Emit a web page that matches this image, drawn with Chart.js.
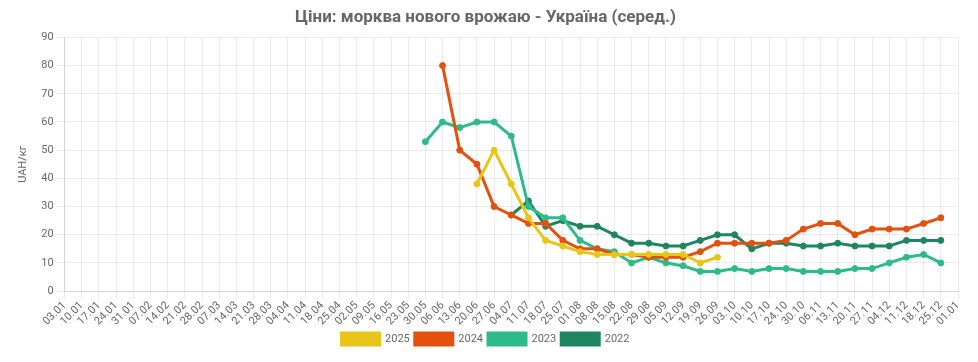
<!DOCTYPE html>
<html>
<head>
<meta charset="utf-8">
<script src="https://cdn.jsdelivr.net/npm/chart.js@4"></script>
<style>
html,body{margin:0;padding:0;background:#fff;}
#wrap{width:978px;height:362px;position:relative;}
</style>
</head>
<body>
<div id="wrap"><canvas id="c" width="978" height="362"></canvas></div>
<script>
const labels = ["03.01","10.01","17.01","24.01","31.01","07.02","14.02","21.02","28.02","07.03","14.03","21.03","28.03","04.04","11.04","18.04","25.04","02.05","09.05","16.05","23.05","30.05","06.06","13.06","20.06","27.06","04.07","11.07","18.07","25.07","01.08","08.08","15.08","22.08","29.08","05.09","12.09","19.09","26.09","03.10","10.10","17.10","24.10","30.10","06.11","13.11","20.11","27.11","04.12","11.12","18.12","25.12","01.01"];

// values start at given category index
const start2025 = 24;
const values2025 = [38,50,38,26,18,16,14,13,13,13,13,13,13,10,12];
const start2024 = 22;
const values2024 = [80,50,45,30,27,24,24,18,15,15,13,13,12,12,12,14,17,17,17,17,18,22,24,24,20,22,22,22,24,26];
const start2023 = 21;
const values2023 = [53,60,58,60,60,55,30,26,26,18,15,14,10,12,10,9,7,7,8,7,8,8,7,7,7,8,8,10,12,13,10];
const start2022 = 26;
const values2022 = [27,32,23,25,23,23,20,17,17,16,16,18,20,20,15,17,17,16,16,17,16,16,16,18,18,18];

function place(start, vals){
  const arr = labels.map(()=>null);
  vals.forEach((v,i)=>{arr[start+i]=v;});
  return arr;
}

const colors = {"2025":"#E8C619","2024":"#E4500E","2023":"#2DBB8A","2022":"#1E8560"};

function ds(label, data){
  return {
    label: label,
    data: data,
    borderColor: colors[label],
    backgroundColor: colors[label],
    pointBackgroundColor: colors[label],
    pointBorderColor: colors[label],
    borderWidth: 3,
    pointRadius: 3,
    pointBorderWidth: 1,
    tension: 0,
    spanGaps: false,
    fill: false
  };
}

Chart.defaults.font.family = "Roboto, 'Noto Sans', sans-serif";
Chart.defaults.color = "#666";

new Chart(document.getElementById('c'), {
  type: 'line',
  data: {
    labels: labels,
    datasets: [
      ds("2025", place(start2025, values2025)),
      ds("2024", place(start2024, values2024)),
      ds("2023", place(start2023, values2023)),
      ds("2022", place(start2022, values2022))
    ]
  },
  options: {
    responsive: false,
    animation: false,
    layout: {padding: {left: 13, right: 20, top: 1, bottom: 7}},
    plugins: {
      title: {
        display: true,
        text: "Ціни: морква нового врожаю - Україна (серед.)",
        color: "#666",
        font: {size: 17, weight: "bold"},
        padding: {top: 7, bottom: 9}
      },
      legend: {
        position: 'bottom',
        labels: {boxWidth: 38, boxHeight: 12, font: {size: 11}, color: "#666", padding: 5}
      },
      tooltip: {enabled: false}
    },
    scales: {
      x: {
        offset: false,
        grid: {color: "rgba(0,0,0,0.08)"},
        ticks: {maxRotation: 45, minRotation: 45, autoSkip: false, font: {size: 11}, color: "#666", padding: 0}
      },
      y: {
        min: 0, max: 90,
        grid: {color: "rgba(0,0,0,0.08)"},
        ticks: {stepSize: 10, font: {size: 11}, color: "#666"},
        title: {display: true, text: "UAH/кг", font: {size: 11}, color: "#666", padding: {top: 4, bottom: 8}}
      }
    }
  }
});
</script>
</body>
</html>
